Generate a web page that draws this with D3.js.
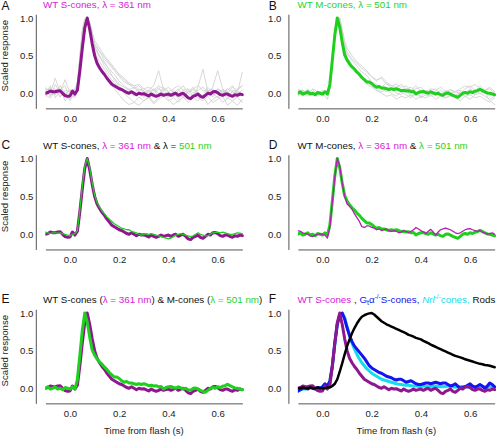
<!DOCTYPE html>
<html><head><meta charset="utf-8">
<script src="https://cdn.jsdelivr.net/npm/d3@7"></script>
<style>body{margin:0;background:#fff} svg{display:block;font-family:"Liberation Sans",Arial,sans-serif}</style>
</head><body><svg id="c" width="496" height="438"></svg>
<script>
// ---------- data ----------
const time = d3.range(81).map(i => +(-0.1 + i * 0.01).toFixed(2));
const timeGray = [-0.1,-0.08,-0.06,-0.04,-0.02,0,0.02,0.03,0.04,0.05,0.06,0.07,0.08,0.09,0.1,
  0.12,0.14,0.16,0.18,0.2,0.22,0.24,0.26,0.28,0.3,0.32,0.34,0.36,0.38,0.4,0.42,0.44,0.46,0.48,0.5,
  0.52,0.54,0.56,0.58,0.6,0.62,0.64,0.66,0.68,0.7];
const xTicks = [0, 0.2, 0.4, 0.6];
const yTicks = [0, 0.5, 1.0];

// WT S-cones, 361 nm (mean)
const sCones361 = [0.0,0.01,0.03,0.02,0.02,0.03,0.035,0.0,-0.03,-0.04,-0.035,0.03,-0.01,0.04,0.3,0.6,0.87,1.0,0.85,0.66,
  0.5,0.4,0.34,0.29,0.25,0.2,0.16,0.12,0.1,0.08,0.06,0.05,0.03,0.01,0.0,0.02,0.0,-0.02,0.0,-0.01,
  -0.005,-0.02,-0.035,-0.01,-0.027,-0.04,-0.027,-0.01,-0.027,-0.018,-0.01,-0.027,-0.01,0.0,-0.027,-0.01,0.0,-0.027,-0.06,-0.07,
  -0.04,-0.027,-0.01,-0.04,-0.053,-0.027,0.0,-0.01,0.02,0.025,0.01,-0.018,-0.027,-0.01,-0.01,-0.027,-0.04,-0.018,-0.027,-0.01,-0.018];
// WT M-cones, 501 nm (mean)
const mCones501 = [0.0,0.02,-0.01,0.0,0.02,-0.01,0.0,-0.02,0.01,0.0,-0.01,0.02,-0.01,0.12,0.44,0.77,1.0,0.88,0.68,0.51,
  0.44,0.39,0.35,0.32,0.28,0.25,0.21,0.18,0.15,0.15,0.13,0.1,0.08,0.09,0.07,0.07,0.06,0.05,0.06,0.05,
  0.06,0.05,0.035,0.04,0.03,0.035,0.02,0.025,-0.01,0.01,0.02,0.025,0.01,0.0,0.02,0.005,-0.01,0.0,-0.02,-0.027,
  0.0,0.005,-0.01,-0.027,-0.04,-0.053,-0.027,0.0,0.01,0.0,0.02,0.01,0.027,0.035,0.053,0.035,0.02,0.005,0.0,-0.01,-0.02];
// WT S-cones, 501 nm
const sCones501 = [0.03,0.02,0.01,0.02,0.02,0.015,0.02,0.01,0.0,-0.01,-0.02,0.0,0.01,0.05,0.32,0.64,0.9,1.0,0.88,0.68,
  0.52,0.42,0.36,0.31,0.27,0.23,0.2,0.17,0.14,0.12,0.1,0.08,0.07,0.06,0.06,0.04,0.03,0.02,0.0,-0.01,
  0.0,0.01,0.0,0.01,0.0,-0.01,-0.02,-0.03,-0.04,-0.05,-0.06,-0.05,-0.03,-0.01,0.0,0.01,0.0,-0.01,-0.02,-0.03,
  -0.02,0.0,0.02,0.0,-0.01,-0.02,-0.02,0.0,0.02,0.025,0.03,0.02,0.03,0.02,0.01,0.0,0.0,0.01,0.02,0.015,0.01];
// WT M-cones, 361 nm
const mCones361 = [0.05,0.04,0.02,0.01,0.0,-0.02,-0.03,-0.01,0.0,0.01,0.0,-0.01,-0.05,0.1,0.42,0.75,1.0,0.9,0.68,0.5,
  0.4,0.37,0.33,0.27,0.22,0.17,0.1,0.09,0.11,0.11,0.09,0.08,0.06,0.07,0.05,0.06,0.07,0.05,0.04,0.05,
  0.04,0.02,0.03,0.05,0.04,0.02,0.04,0.06,0.09,0.07,0.05,0.03,0.01,0.04,0.065,0.03,-0.01,0.03,0.06,0.07,
  0.08,0.07,0.06,0.04,0.02,0.01,0.02,0.04,0.06,0.07,0.075,0.06,0.05,0.04,0.05,0.03,0.02,0.0,0.01,0.02,0.0];
// Gt alpha -/- S-cones
const gtaSCones = [-0.04,-0.02,0.0,0.01,-0.01,0.02,0.0,-0.01,0.01,0.0,0.02,0.06,0.03,0.1,0.3,0.6,0.85,0.97,1.0,0.92,
  0.8,0.7,0.62,0.56,0.52,0.48,0.44,0.4,0.35,0.3,0.27,0.25,0.23,0.21,0.2,0.18,0.16,0.15,0.14,0.12,
  0.11,0.12,0.12,0.1,0.08,0.09,0.1,0.08,0.06,0.05,0.05,0.06,0.07,0.07,0.06,0.07,0.08,0.07,0.06,0.07,
  0.07,0.05,0.03,0.04,0.06,0.03,0.0,0.01,0.02,0.04,0.06,0.03,0.01,0.03,0.05,0.03,0.0,0.03,0.07,0.05,0.02];
// Nrl -/- cones
const nrlCones = [-0.02,-0.02,-0.01,-0.01,0.0,0.0,0.01,0.0,0.0,0.01,0.01,0.02,0.03,0.08,0.28,0.58,0.84,0.97,1.0,0.94,
  0.82,0.7,0.6,0.52,0.45,0.39,0.34,0.3,0.26,0.23,0.2,0.18,0.16,0.14,0.12,0.11,0.1,0.09,0.08,0.07,
  0.06,0.055,0.05,0.045,0.04,0.04,0.035,0.03,0.03,0.025,0.025,0.03,0.025,0.02,0.025,0.03,0.03,0.025,0.02,0.02,
  0.025,0.03,0.025,0.02,0.015,0.02,0.02,0.025,0.02,0.015,0.02,0.02,0.025,0.02,0.015,0.02,0.02,0.015,0.02,0.02,0.015];
// Rods
const rods = [0.0,0.0,0.01,0.0,0.0,0.01,0.0,0.0,0.01,0.0,0.0,0.0,0.01,0.01,0.03,0.06,0.12,0.22,0.33,0.45,
  0.56,0.65,0.73,0.8,0.86,0.91,0.95,0.97,0.985,0.995,1.0,0.98,0.95,0.92,0.89,0.87,0.85,0.835,0.82,0.805,
  0.79,0.775,0.76,0.745,0.73,0.71,0.7,0.685,0.67,0.66,0.65,0.63,0.615,0.6,0.58,0.565,0.55,0.535,0.52,0.505,
  0.49,0.475,0.46,0.445,0.43,0.42,0.41,0.4,0.385,0.375,0.365,0.355,0.345,0.335,0.325,0.32,0.31,0.305,0.3,0.29,0.28];

// individual cells (grey), sampled on timeGray
const sConeCells = [
 [0.06,-0.04,0.12,0.0,-0.06,-0.02,0.04, 0.12,0.46,0.8,0.97,1.0,0.9,0.74,0.6, 0.48,0.4,0.32,0.25,0.16,0.1,0.05,0.08,0.02,-0.02,0.05,0.1,0.3,0.05,-0.05,0.0,0.06,-0.04,0.02,0.05,0.0,-0.03,0.08,0.0,-0.06,0.04,0.02,-0.05,0.06,0.1],
 [-0.05,0.08,-0.02,0.05,0.1,-0.08,0.0, 0.05,0.38,0.75,0.95,1.0,0.93,0.8,0.65, 0.55,0.45,0.38,0.3,0.22,0.15,0.12,0.06,0.1,0.03,0.0,0.05,-0.03,0.08,0.02,-0.05,0.04,0.1,0.0,-0.04,0.08,0.32,0.02,-0.05,0.06,0.0,-0.08,0.04,0.02,-0.02],
 [0.0,0.1,-0.06,0.03,-0.02,0.05,-0.04, 0.08,0.42,0.78,0.96,1.0,0.88,0.68,0.5, 0.35,0.25,0.15,0.06,-0.02,-0.1,-0.15,-0.12,-0.05,-0.1,-0.04,-0.12,-0.06,0.0,-0.08,-0.15,-0.1,-0.05,-0.12,-0.06,-0.1,-0.02,-0.15,-0.08,-0.04,-0.12,-0.06,-0.1,-0.16,-0.08],
 [0.08,0.02,0.06,-0.05,0.04,0.02,0.06, 0.15,0.5,0.85,0.99,0.98,0.9,0.78,0.66, 0.56,0.48,0.4,0.32,0.26,0.2,0.14,0.1,0.12,0.06,0.08,0.04,0.1,0.06,0.02,0.06,0.1,0.04,0.0,0.06,0.1,0.04,0.02,0.08,0.3,0.06,0.0,0.08,0.04,0.1],
 [-0.02,-0.06,0.04,0.06,-0.1,-0.04,0.02, 0.1,0.4,0.76,0.95,1.0,0.86,0.7,0.55, 0.42,0.32,0.22,0.14,0.08,0.02,0.06,-0.04,0.02,-0.06,0.04,-0.02,0.06,0.0,-0.05,0.02,-0.08,0.0,0.05,-0.03,0.02,-0.06,0.04,-0.02,0.0,0.05,-0.04,0.02,0.0,0.28],
 [0.04,0.0,0.2,0.02,0.18,0.0,-0.06, 0.06,0.44,0.82,0.98,0.99,0.92,0.8,0.62, 0.5,0.36,0.26,0.2,0.12,0.08,0.04,0.0,0.06,0.02,-0.04,0.02,0.08,0.0,-0.02,0.04,0.0,-0.06,0.02,0.08,0.0,-0.04,0.02,0.06,-0.02,0.0,0.06,0.02,-0.04,0.0],
 [0.0,-0.02,0.02,-0.04,0.0,-0.1,0.02, 0.1,0.48,0.8,0.97,1.0,0.9,0.76,0.62, 0.5,0.42,0.3,0.18,0.1,0.0,-0.06,-0.12,-0.16,-0.1,-0.06,-0.14,-0.08,-0.04,-0.1,-0.06,-0.12,-0.04,-0.08,-0.02,-0.06,-0.1,-0.04,-0.12,-0.08,-0.04,-0.16,-0.1,-0.05,-0.12],
 [0.06,0.04,-0.02,0.1,0.0,0.04,0.0, 0.12,0.42,0.78,0.96,1.0,0.94,0.82,0.7, 0.6,0.5,0.42,0.34,0.24,0.18,0.12,0.1,0.04,0.06,0.02,0.06,0.0,0.04,0.08,0.02,-0.02,0.04,0.06,0.0,0.04,0.08,0.02,-0.02,0.06,0.02,0.04,0.1,0.0,0.04]
];
const mConeCells = [
 [0.04,0.0,0.06,-0.02,0.03,0.0,-0.08, 0.05,0.42,0.8,0.98,1.0,0.85,0.66,0.55, 0.46,0.4,0.33,0.28,0.22,0.18,0.2,0.12,0.1,0.08,0.12,0.06,0.04,0.1,0.02,0.0,0.04,0.06,0.0,-0.02,0.04,0.02,0.0,0.06,0.1,0.04,0.0,0.02,-0.1,-0.15],
 [-0.02,0.05,-0.03,0.02,0.0,0.04,0.0, 0.08,0.48,0.84,0.99,0.97,0.78,0.56,0.44, 0.36,0.28,0.2,0.12,0.08,0.04,0.02,0.05,0.0,-0.04,0.02,-0.02,-0.06,0.0,-0.04,0.02,-0.02,0.0,0.04,-0.02,0.0,-0.04,0.02,0.0,0.03,-0.02,0.06,0.0,-0.03,0.02],
 [0.06,0.02,0.0,0.05,-0.02,0.02,0.04, 0.1,0.5,0.85,1.0,0.96,0.84,0.7,0.6, 0.5,0.42,0.36,0.3,0.22,0.16,0.22,0.15,0.1,0.12,0.08,0.1,0.04,0.06,0.08,0.02,0.06,0.04,0.08,0.02,0.05,0.02,0.06,0.1,0.08,0.12,0.06,0.04,0.08,0.02],
 [0.0,-0.04,0.04,0.0,-0.04,0.02,0.0, 0.06,0.4,0.78,0.97,1.0,0.8,0.62,0.48, 0.38,0.3,0.2,0.14,0.1,0.04,0.0,-0.04,-0.02,-0.08,-0.04,-0.06,-0.02,-0.08,-0.04,-0.06,-0.02,-0.08,-0.04,-0.06,-0.02,-0.06,-0.1,-0.04,-0.02,-0.06,-0.04,-0.08,-0.12,-0.06],
 [0.02,0.04,-0.02,0.06,0.02,-0.02,0.02, 0.06,0.45,0.82,0.99,0.99,0.82,0.64,0.52, 0.44,0.36,0.28,0.24,0.15,0.12,0.08,0.14,0.06,0.04,0.02,0.06,0.08,0.02,0.0,0.04,0.0,0.02,-0.02,0.04,0.0,0.02,0.04,0.0,0.06,0.02,0.1,0.04,0.06,0.0],
 [-0.04,0.02,0.0,-0.03,0.02,-0.04,0.02, 0.08,0.44,0.8,0.97,1.0,0.82,0.6,0.46, 0.36,0.3,0.22,0.18,0.12,0.1,0.06,0.02,0.06,0.0,-0.02,0.04,-0.04,0.0,-0.06,-0.02,-0.04,0.02,-0.02,-0.06,-0.04,-0.02,0.0,-0.04,-0.08,-0.02,0.0,-0.04,-0.08,-0.04]
];

// ---------- styles / layout ----------
const C = {purple:"#8e168e", purpleThin:"#b41eb4", magentaText:"#d822d8", green:"#1ecf1e", greenText:"#1fd41f",
  grey:"#d2d2d2", blue:"#1414f0", cyan:"#12dcee", black:"#000"};
const cols = [{x0:45.4, x1:242.3, ax:35.8, labR:33.4, title:43, letter:1.5},
              {x0:297.9, x1:494.7, ax:288.4, labR:281.4, title:297.5, letter:268.7}];
const rows = [{y1:18, y0:93.3, tb:8, lb:9.5}, {y1:158.5, y0:234.3, tb:149.3, lb:149.3}, {y1:313, y0:388.3, tb:303.3, lb:303}];

const svg = d3.select("#c");
const lam = "\u03bb";
const panels = [
 {c:0,r:0,letter:"A", title:[["WT S-cones, "+lam+" = 361 nm",C.magentaText]],
  series:[...sConeCells.map(v=>({t:timeGray,v,col:C.grey,w:0.9})), {t:time,v:sCones361,col:C.purple,w:3}]},
 {c:1,r:0,letter:"B", title:[["WT M-cones, "+lam+" = 501 nm",C.greenText]],
  series:[...mConeCells.map(v=>({t:timeGray,v,col:C.grey,w:0.9})), {t:time,v:mCones501,col:C.green,w:3}]},
 {c:0,r:1,letter:"C", title:[["WT S-cones, ","#111"],[lam+" = 361 nm",C.magentaText],[" & "+lam+" = ","#111"],["501 nm",C.greenText]],
  series:[{t:time,v:sCones361,col:C.purple,w:3},{t:time,v:sCones501,col:C.green,w:1.3}]},
 {c:1,r:1,letter:"D", title:[["WT M-cones, ","#111"],[lam+" = 361 nm",C.magentaText],[" & ","#111"],[lam+" = 501 nm",C.greenText]],
  series:[{t:time,v:mCones501,col:C.green,w:3},{t:time,v:mCones361,col:C.purpleThin,w:1.3}]},
 {c:0,r:2,letter:"E", title:[["WT S-cones (","#111"],[lam+" = 361 nm",C.magentaText],[") & M-cones (","#111"],[lam+" = 501 nm",C.greenText],[")","#111"]],
  series:[{t:time,v:sCones361,col:C.purple,w:3},{t:time,v:mCones501,col:C.green,w:3}], xlabel:true},
 {c:1,r:2,letter:"F", fTitle:true,
  series:[{t:time,v:nrlCones,col:C.cyan,w:3},{t:time,v:gtaSCones,col:C.blue,w:3},{t:time,v:sCones361,col:C.purple,w:3},{t:time,v:rods,col:C.black,w:2.5}], xlabel:true}
];

panels.forEach((p,i) => {
  const col = cols[p.c], row = rows[p.r];
  const x = d3.scaleLinear().domain([-0.1,0.7]).range([col.x0,col.x1]);
  const y = d3.scaleLinear().domain([0,1]).range([row.y0,row.y1]);
  const g = svg.append("g");
  const cid = "clip"+i;
  g.append("clipPath").attr("id",cid).append("rect")
    .attr("x",x(-0.1)).attr("y",y(1.1)).attr("width",x(0.7)-x(-0.1)+2).attr("height",y(-0.2)-y(1.1));
  const line = d3.line().x(d=>x(d[0])).y(d=>y(d[1]));
  const pg = g.append("g").attr("clip-path",`url(#${cid})`);
  p.series.forEach(s => {
    pg.append("path").attr("d", line(s.t.map((t,j)=>[t,s.v[j]])))
      .attr("fill","none").attr("stroke",s.col).attr("stroke-width",s.w)
      .attr("stroke-linejoin","round").attr("stroke-linecap","round");
  });
  // x axis
  const xa = g.append("g").attr("transform",`translate(0,${y(-0.2)})`)
    .call(d3.axisBottom(x).tickValues(xTicks).tickFormat(d3.format(".1f")).tickSize(0).tickPadding(7));
  // y axis
  const yExt = d3.scaleLinear().domain([-0.2,1.05]).range([y(-0.2),y(1.05)]);
  const ya = g.append("g").attr("transform",`translate(${col.ax},0)`)
    .call(d3.axisLeft(yExt).tickValues(yTicks).tickFormat(d3.format(".1f")).tickSize(0).tickPadding(col.ax-col.labR));
  [xa,ya].forEach(a => {
    a.select(".domain").attr("stroke","#555").attr("stroke-width",1);
    a.selectAll("text").attr("font-size",9.6).attr("fill","#222").attr("font-family","Liberation Sans, Arial, sans-serif");
  });
  // y label
  if (p.c===0) {
    g.append("text").attr("transform",`translate(8.3,${(row.y0+row.y1)/2}) rotate(-90)`)
      .attr("text-anchor","middle").attr("font-size",9.6).attr("fill","#222").text("Scaled response");
  }
  if (p.xlabel) {
    g.append("text").attr("x",(col.x0+col.x1)/2).attr("y",434).attr("text-anchor","middle")
      .attr("font-size",9.6).attr("fill","#222").text("Time from flash (s)");
  }
  // letter
  g.append("text").attr("x",col.letter).attr("y",row.lb).attr("font-size",12).attr("fill","#111").text(p.letter);
  // title
  const tt = g.append("text").attr("x",col.title).attr("y",row.tb).attr("font-size",9.8);
  if (p.title) {
    p.title.forEach(([s,c]) => tt.append("tspan").attr("fill",c).text(s));
  } else {
    tt.append("tspan").attr("fill",C.magentaText).text("WT S-cones");
    tt.append("tspan").attr("fill","#111").text(" , ");
    tt.append("tspan").attr("fill",C.blue).text("G");
    tt.append("tspan").attr("fill",C.blue).attr("font-size",7).attr("dy",2).text("t");
    tt.append("tspan").attr("fill",C.blue).attr("dy",-2).text("\u03b1");
    tt.append("tspan").attr("fill",C.blue).attr("font-size",6.5).attr("dy",-4).text("-/-");
    tt.append("tspan").attr("fill",C.blue).attr("dy",4).text("S-cones, ");
    tt.append("tspan").attr("fill",C.cyan).attr("font-style","italic").text("Nrl");
    tt.append("tspan").attr("fill",C.cyan).attr("font-size",6.5).attr("dy",-4).text("-/-");
    tt.append("tspan").attr("fill",C.cyan).attr("dy",4).text("cones,");
    tt.append("tspan").attr("fill","#111").text(" Rods");
  }
});
</script></body></html>
